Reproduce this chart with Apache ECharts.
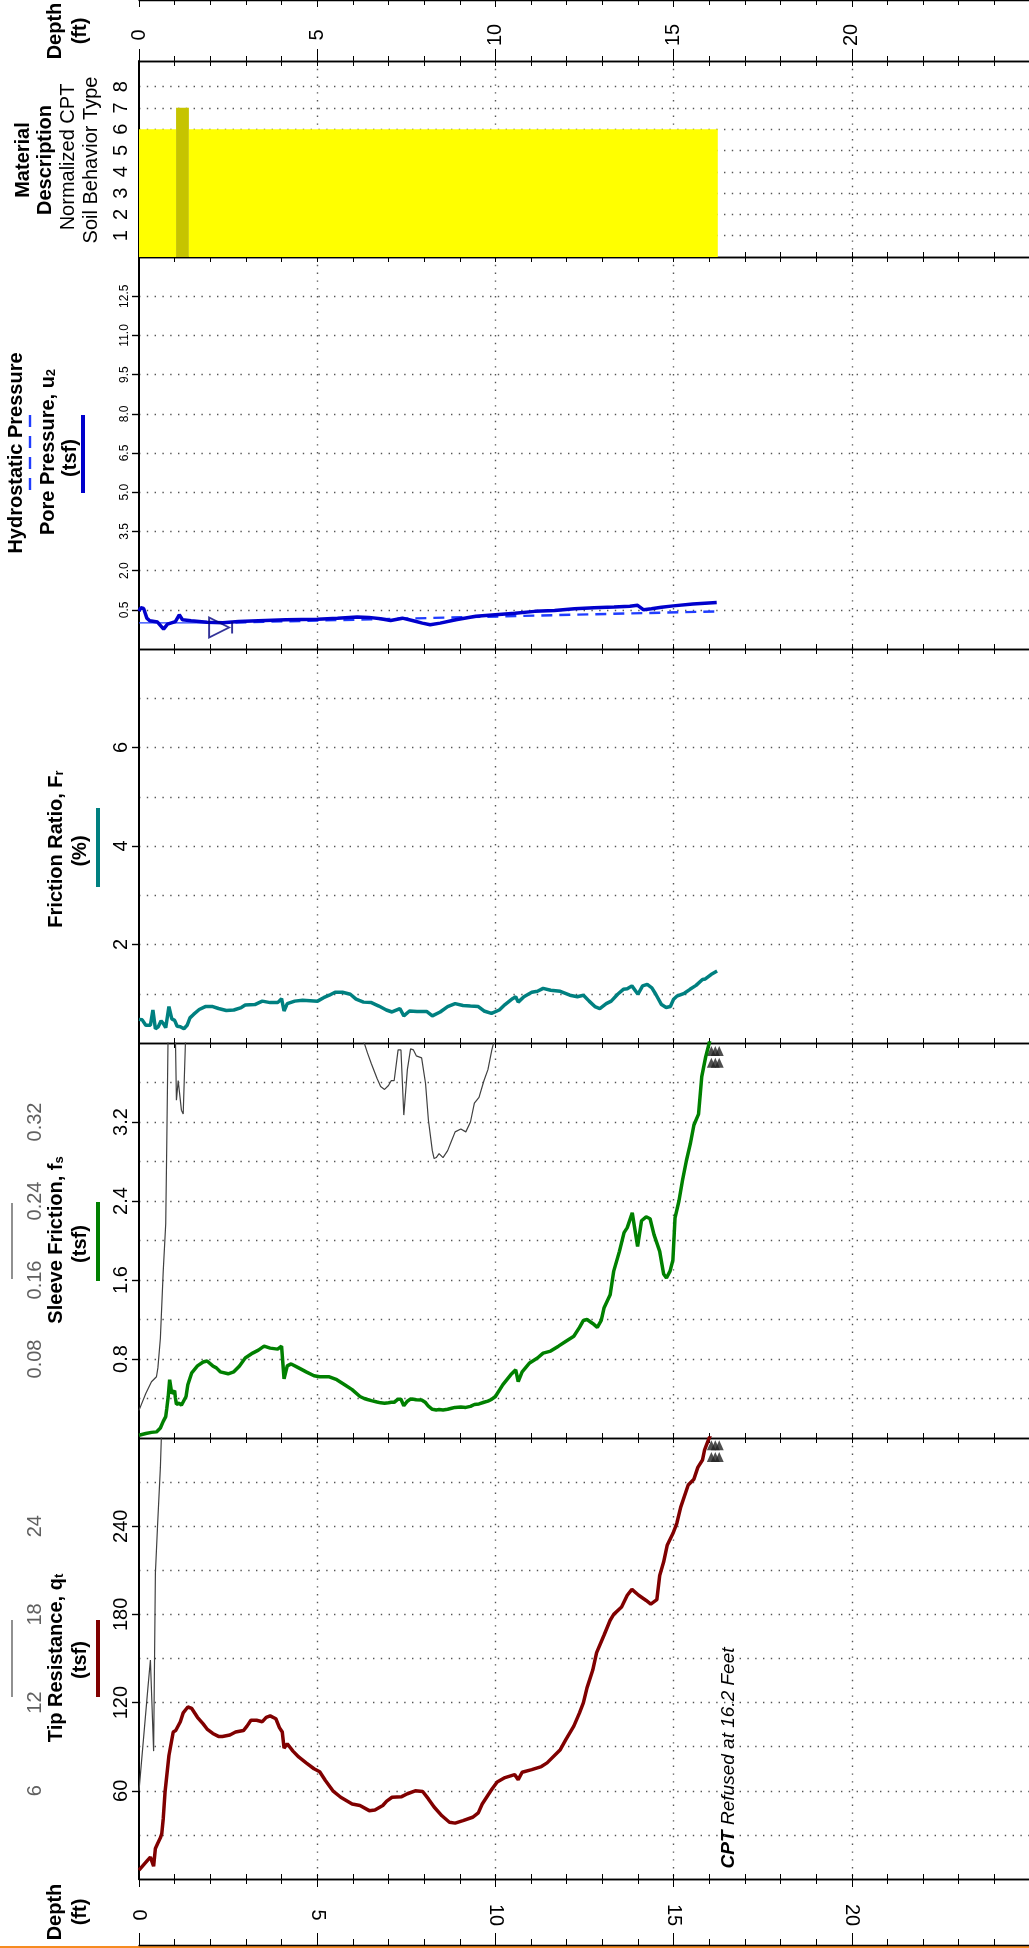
<!DOCTYPE html>
<html>
<head>
<meta charset="utf-8">
<title>CPT Log</title>
<script src="https://cdn.jsdelivr.net/npm/echarts@6/dist/echarts.min.js"></script>
<style>
  html, body { margin: 0; padding: 0; background: #fff; }
  #chart { width: 1029px; height: 1948px; }
</style>
</head>
<body>
<div id="chart"></div>
<script>
// depths in ft, values
const qtDepth = [0.00, 0.25, 0.32, 0.41, 0.46, 0.52, 0.60, 0.64, 0.68, 0.73, 0.84, 0.96, 1.03, 1.16, 1.24, 1.37, 1.48, 1.64, 1.80, 1.91,
  2.07, 2.23, 2.34, 2.55, 2.71, 2.93, 3.03, 3.14, 3.30, 3.46, 3.57, 3.68, 3.84, 3.94, 4.02, 4.07, 4.16, 4.32, 4.48, 4.69,
  4.91, 5.07, 5.23, 5.44, 5.66, 5.98, 6.20, 6.46, 6.62, 6.84, 6.95, 7.10, 7.37, 7.53, 7.75, 7.96, 8.12, 8.28, 8.50, 8.71,
  8.87, 9.09, 9.36, 9.52, 9.63, 9.79, 9.90, 10.05, 10.27, 10.54, 10.64, 10.75, 11.02, 11.29, 11.45, 11.82, 11.98, 12.20, 12.36, 12.47,
  12.57, 12.73, 12.84, 13.05, 13.22, 13.32, 13.54, 13.70, 13.83, 14.02, 14.23, 14.36, 14.53, 14.61, 14.72, 14.82, 14.98, 15.09, 15.20, 15.41,
  15.57, 15.68, 15.81, 15.87, 15.95, 16.05]
const qtTsf = [6, 13, 14.9, 8.7, 20.8, 24, 28, 31, 41, 59, 84, 100, 101, 107, 113, 117, 116, 110, 105.5, 102,
  99, 97, 97, 98, 100, 101, 104, 108, 108, 107, 110, 111, 109, 103, 100, 89, 92, 87, 83, 79,
  75, 73, 67, 60, 55.6, 51, 50, 46.5, 47, 50, 53, 55.6, 56, 58, 60, 59.5, 54.5, 49, 43, 38.6,
  38, 39.7, 42, 45, 51, 57, 61, 66, 69, 71, 67.6, 72.6, 74.4, 76.5, 79, 88, 95, 104, 113, 120,
  130, 142, 154, 166, 176, 180, 185, 193, 197, 193, 189.5, 187, 190, 206.5, 215.6, 227, 235, 242, 253, 268,
  272, 280, 285, 292, 297, 303]

const fsDepth = [0.00, 0.19, 0.35, 0.49, 0.53, 0.60, 0.68, 0.75, 0.78, 0.82, 0.86, 0.92, 1.00, 1.02, 1.05, 1.10, 1.13, 1.19, 1.24, 1.32,
  1.37, 1.48, 1.64, 1.80, 1.91, 2.07, 2.17, 2.28, 2.50, 2.66, 2.82, 2.98, 3.19, 3.35, 3.51, 3.68, 3.89, 4.00, 4.07, 4.16,
  4.27, 4.48, 4.69, 4.91, 5.07, 5.34, 5.55, 5.77, 5.98, 6.20, 6.32, 6.41, 6.52, 6.68, 6.78, 6.89, 7.00, 7.08, 7.16, 7.27,
  7.35, 7.43, 7.53, 7.62, 7.70, 7.78, 7.93, 8.04, 8.12, 8.23, 8.28, 8.34, 8.42, 8.53, 8.66, 8.77, 8.87, 9.03, 9.17, 9.30,
  9.41, 9.54, 9.68, 9.79, 9.90, 9.95, 10.00, 10.21, 10.43, 10.57, 10.64, 10.75, 10.96, 11.18, 11.34, 11.55, 11.77, 11.98, 12.20, 12.36,
  12.47, 12.57, 12.73, 12.86, 12.97, 13.05, 13.22, 13.32, 13.48, 13.61, 13.70, 13.84, 13.99, 14.10, 14.23, 14.34, 14.45, 14.61, 14.72, 14.80,
  14.90, 14.98, 15.04, 15.15, 15.25, 15.36, 15.47, 15.57, 15.70, 15.79, 15.90, 16.00, 16.05]
const fsTsf = [0.028, 0.045, 0.057, 0.062, 0.071, 0.101, 0.169, 0.217, 0.30, 0.42, 0.59, 0.45, 0.48, 0.41, 0.342, 0.362, 0.352, 0.332, 0.328, 0.42,
  0.54, 0.66, 0.73, 0.77, 0.78, 0.73, 0.71, 0.67, 0.65, 0.67, 0.73, 0.81, 0.86, 0.89, 0.93, 0.91, 0.90, 0.93, 0.60, 0.73,
  0.75, 0.71, 0.67, 0.63, 0.62, 0.62, 0.59, 0.54, 0.49, 0.42, 0.40, 0.39, 0.379, 0.364, 0.356, 0.353, 0.357, 0.362, 0.362, 0.393,
  0.393, 0.327, 0.373, 0.394, 0.393, 0.387, 0.385, 0.359, 0.322, 0.291, 0.283, 0.284, 0.288, 0.284, 0.291, 0.301, 0.310, 0.313, 0.310, 0.320,
  0.339, 0.345, 0.362, 0.373, 0.393, 0.40, 0.42, 0.54, 0.64, 0.69, 0.57, 0.67, 0.76, 0.81, 0.86, 0.88, 0.93, 0.98, 1.03, 1.12,
  1.19, 1.20, 1.16, 1.12, 1.19, 1.32, 1.45, 1.69, 1.89, 2.08, 2.13, 2.28, 1.94, 2.20, 2.24, 2.22, 2.06, 1.89, 1.66, 1.62,
  1.69, 1.80, 2.23, 2.40, 2.61, 2.81, 2.98, 3.17, 3.28, 3.66, 3.86, 4.0, 4.1]

const rfDepth = [0.00, 0.09, 0.19, 0.32, 0.39, 0.46, 0.54, 0.62, 0.68, 0.75, 0.84, 0.92, 1.00, 1.07, 1.16, 1.26, 1.35, 1.43, 1.53, 1.69,
  1.86, 2.07, 2.23, 2.45, 2.66, 2.87, 2.98, 3.25, 3.46, 3.68, 3.89, 4.00, 4.07, 4.16, 4.37, 4.59, 4.80, 5.01, 5.18, 5.34,
  5.50, 5.71, 5.93, 6.09, 6.30, 6.52, 6.73, 6.94, 7.10, 7.32, 7.43, 7.59, 7.80, 8.07, 8.23, 8.45, 8.66, 8.87, 9.09, 9.30,
  9.52, 9.68, 9.89, 10.11, 10.27, 10.48, 10.57, 10.64, 10.80, 11.02, 11.18, 11.34, 11.55, 11.82, 12.09, 12.30, 12.47, 12.63, 12.79, 12.93,
  13.11, 13.25, 13.43, 13.59, 13.70, 13.83, 14.00, 14.13, 14.26, 14.39, 14.50, 14.66, 14.79, 14.91, 15.00, 15.09, 15.30, 15.46, 15.63, 15.81,
  15.89, 16.05, 16.22]
const rfPct = [0.48, 0.47, 0.36, 0.36, 0.67, 0.29, 0.33, 0.45, 0.40, 0.31, 0.74, 0.49, 0.46, 0.34, 0.33, 0.29, 0.36, 0.51, 0.58, 0.68,
  0.74, 0.74, 0.70, 0.66, 0.67, 0.72, 0.77, 0.78, 0.85, 0.82, 0.82, 0.90, 0.65, 0.80, 0.85, 0.87, 0.86, 0.85, 0.92, 0.97,
  1.03, 1.03, 0.99, 0.89, 0.83, 0.82, 0.75, 0.67, 0.63, 0.70, 0.55, 0.65, 0.64, 0.64, 0.55, 0.63, 0.74, 0.80, 0.76, 0.75,
  0.74, 0.65, 0.60, 0.67, 0.78, 0.90, 0.94, 0.83, 0.94, 1.03, 1.05, 1.11, 1.07, 1.05, 0.97, 0.94, 0.97, 0.85, 0.74, 0.70,
  0.80, 0.85, 0.99, 1.09, 1.10, 1.16, 0.99, 1.16, 1.19, 1.12, 0.99, 0.78, 0.72, 0.74, 0.89, 0.95, 1.01, 1.09, 1.17, 1.29,
  1.30, 1.39, 1.46]

const u2Depth = [0.00, 0.05, 0.13, 0.22, 0.30, 0.52, 0.69, 0.80, 1.02, 1.13, 1.22, 1.46, 1.91, 2.35, 2.79, 3.35, 4.12, 5.01, 5.57, 6.12,
  6.45, 6.78, 7.06, 7.39, 7.67, 7.95, 8.17, 8.45, 8.89, 9.45, 10.00, 10.55, 11.10, 11.66, 12.22, 12.77, 13.33, 13.77, 13.99, 14.16,
  14.38, 14.66, 14.99, 15.54, 16.21]
const u2Tsf = [0.45, 0.58, 0.55, 0.18, 0.08, 0.03, -0.24, -0.05, 0.05, 0.31, 0.12, 0.08, 0.02, 0.00, 0.05, 0.08, 0.12, 0.14, 0.18, 0.22,
  0.21, 0.16, 0.09, 0.18, 0.09, -0.01, -0.07, -0.01, 0.12, 0.25, 0.31, 0.37, 0.44, 0.47, 0.54, 0.58, 0.61, 0.64, 0.67, 0.50,
  0.54, 0.60, 0.65, 0.72, 0.78]

const hydroDepth = [0, 2.2, 16.2]
const hydroTsf = [0, 0, 0.437]
const waterTable = [2.29, -0.18]

const sbtFrom = [0, 1.04, 1.40]
const sbtTo = [1.04, 1.40, 16.24]
const sbtZone = [6, 7, 6]

const refusalDepth = [16.06, 16.17, 16.28]
const qtRefusalRow = [295, 287]
const fsRefusalRow = [3.92, 3.80]

const FONT = '"Liberation Sans", Arial, sans-serif'
const DOT = { color: '#555', width: 1.4, type: [1.4, 6.4] }
const zoneColor = { 6: '#ffff00', 7: '#c6c400' }

const pairs = (xs, ys) => xs.map((x, i) => [x, ys[i]])
const refusalMarks = rows => rows.flatMap(v => refusalDepth.map(d => [d, v]))

const grids = [
  { top: 0, height: 61 }, // depth scale, top
  { top: 61, height: 196 }, // SBT
  { top: 257, height: 392 }, // pore pressure
  { top: 649, height: 394 }, // friction ratio
  { top: 1043, height: 395 }, // sleeve friction
  { top: 1438, height: 441 }, // tip resistance
  { top: 1879, height: 66 } // depth scale, bottom
].map(g => Object.assign({ left: 139, width: 891, outerBoundsMode: 'none', containLabel: false }, g))

function depthAxis (gridIndex, position, o = {}) {
  return {
    type: 'value',
    gridIndex,
    position,
    min: 0,
    max: 25,
    interval: 5,
    axisLine: { show: true, onZero: false, lineStyle: { color: '#000', width: 1.3 } },
    axisTick: { show: true, inside: true, length: o.tick || 5, lineStyle: { color: '#000', width: 1 } },
    minorTick: { show: true, splitNumber: 5, length: o.minor || 5, lineStyle: { color: '#000', width: 1 } },
    axisLabel: o.label
      ? { show: true, inside: true, rotate: 90, margin: o.label, align: 'center', verticalAlign: 'middle', fontSize: 20, fontFamily: FONT, color: '#000', showMaxLabel: false }
      : { show: false },
    splitLine: o.grid ? { show: true, showMinLine: false, showMaxLine: false, lineStyle: DOT } : { show: false }
  }
}

function valueAxis (gridIndex, min, max, interval, o = {}) {
  const main = !o.offset
  return {
    type: 'value',
    gridIndex,
    position: 'left',
    offset: o.offset || 0,
    min,
    max,
    interval,
    axisLine: { show: main, onZero: false, lineStyle: { color: '#000', width: 2 } },
    axisTick: { show: main && o.tick !== false, length: 7, lineStyle: { color: '#000', width: 1.4 } },
    minorTick: { show: false, splitNumber: o.minor || 5 },
    axisLabel: {
      rotate: 90,
      margin: 8,
      fontSize: o.fontSize || 20,
      fontFamily: FONT,
      color: o.color || '#000',
      showMinLabel: false,
      showMaxLabel: false,
      formatter: o.fmt
    },
    splitLine: { show: main, showMinLine: false, showMaxLine: false, lineStyle: o.splitStyle || DOT },
    minorSplitLine: { show: !!o.minor, lineStyle: DOT }
  }
}

const xAxes = [
  depthAxis(0, 'bottom', { tick: 12, minor: 5, label: 26 }),
  depthAxis(0, 'top', { tick: 7, minor: 5 })
]
for (let g = 1; g <= 5; g++) {
  xAxes.push(depthAxis(g, 'bottom', { grid: true }), depthAxis(g, 'top'))
}
xAxes.push(
  depthAxis(6, 'top', { tick: 8, minor: 5, label: 36 }),
  depthAxis(6, 'bottom', { tick: 12, minor: 6 })
)

const sbtLines = ['#555', '#555', '#555', '#555', '#555', '#555', '#555', '#555', 'rgba(0,0,0,0)', 'rgba(0,0,0,0)']

const yAxes = [
  { type: 'value', gridIndex: 0, show: false, min: 0, max: 1 },
  valueAxis(1, 0, 9.2, 1, {
    tick: false,
    fmt: v => (v >= 1 && v <= 8 ? String(v) : ''),
    splitStyle: Object.assign({}, DOT, { color: sbtLines })
  }),
  valueAxis(2, -1, 14, 1.5, { fontSize: 12, fmt: v => v.toFixed(1) }),
  valueAxis(3, 0, 8, 2, { minor: 2 }),
  valueAxis(4, 0, 4, 0.8, { minor: 2, fmt: v => v.toFixed(1) }),
  valueAxis(4, 0, 0.4, 0.08, { offset: 86, color: '#606060', fmt: v => v.toFixed(2) }),
  valueAxis(5, 0, 300, 60, { minor: 2 }),
  valueAxis(5, 0, 30, 6, { offset: 86, color: '#606060' }),
  { type: 'value', gridIndex: 6, show: false, min: 0, max: 1 }
]

const lineBase = { type: 'line', symbol: 'none', silent: true, clip: true, animation: false }

function vText (x, y, text, o = {}) {
  return {
    type: 'text',
    x,
    y,
    rotation: Math.PI / 2,
    silent: true,
    style: Object.assign({
      text,
      fill: '#000',
      fontSize: 20,
      fontWeight: o.normal ? 'normal' : 'bold',
      fontFamily: FONT,
      align: 'center',
      verticalAlign: 'middle'
    }, o.style)
  }
}

function subText (x, y, main, sub) {
  return vText(x, y, '{m|' + main + '}{s|' + sub + '}', {
    style: {
      rich: {
        m: { fontSize: 20, fontWeight: 'bold', fontFamily: FONT, fill: '#000' },
        s: { fontSize: 13, fontWeight: 'bold', fontFamily: FONT, fill: '#000', verticalAlign: 'bottom' }
      }
    }
  })
}

function swatch (x, y1, y2, color, width, dash) {
  return {
    type: 'line',
    silent: true,
    shape: { x1: x, y1, x2: x, y2 },
    style: { stroke: color, lineWidth: width, lineDash: dash || null }
  }
}

const graphics = [
  // depth headers
  vText(55, 31, 'Depth'), vText(80, 31, '(ft)'),
  vText(55, 1912, 'Depth'), vText(80, 1912, '(ft)'),
  // SBT
  vText(23, 160, 'Material'), vText(45, 160, 'Description'),
  vText(68, 157, 'Normalized CPT', { normal: true }), vText(91, 160, 'Soil Behavior Type', { normal: true }),
  // pore pressure
  vText(16, 453, 'Hydrostatic Pressure'),
  swatch(30, 415, 492, '#1f3cff', 2.4, [12, 9]),
  subText(48, 452, 'Pore Pressure, u', '2'),
  vText(70, 458, '(tsf)'),
  swatch(83, 415, 493, '#0000cc', 4),
  // friction ratio
  subText(56, 849, 'Friction Ratio, F', 'r'),
  vText(80, 851, '(%)'),
  swatch(98, 808, 887, '#008080', 4),
  // sleeve friction
  subText(56, 1240, 'Sleeve Friction, f', 's'),
  vText(80, 1244, '(tsf)'),
  swatch(12, 1203, 1279, '#555', 1.3),
  swatch(98, 1202, 1281, '#008000', 4),
  // tip resistance
  subText(56, 1658, 'Tip Resistance, q', 't'),
  vText(80, 1660, '(tsf)'),
  swatch(12, 1620, 1697, '#555', 1.3),
  swatch(98, 1620, 1697, '#800000', 4),
  vText(729, 1758, '{b|CPT} {i|Refused at 16.2 Feet}', {
    style: {
      rich: {
        b: { fontSize: 19, fontWeight: 'bold', fontStyle: 'italic', fontFamily: FONT, fill: '#000' },
        i: { fontSize: 19, fontStyle: 'italic', fontFamily: FONT, fill: '#000' }
      }
    }
  }),
  {
    type: 'line',
    silent: true,
    shape: { x1: 0, y1: 1947, x2: 1029, y2: 1947 },
    style: { stroke: '#f68b1f', lineWidth: 2 }
  }
]

const series = [
  {
    type: 'custom',
    xAxisIndex: 2,
    yAxisIndex: 1,
    silent: true,
    data: sbtFrom.map((d, i) => [d, sbtTo[i], sbtZone[i]]),
    encode: { x: [0, 1], y: 2 },
    renderItem: (params, api) => {
      const start = api.coord([api.value(0), 0])
      const end = api.coord([api.value(1), api.value(2)])
      return {
        type: 'rect',
        shape: { x: start[0], y: end[1], width: end[0] - start[0], height: start[1] - end[1] },
        style: { fill: zoneColor[api.value(2)] }
      }
    }
  },
  Object.assign({}, lineBase, {
    xAxisIndex: 4,
    yAxisIndex: 2,
    data: pairs(hydroDepth.slice(0, 2), hydroTsf.slice(0, 2)),
    lineStyle: { color: '#1f3cff', width: 1.2 }
  }),
  Object.assign({}, lineBase, {
    xAxisIndex: 4,
    yAxisIndex: 2,
    data: pairs(hydroDepth.slice(1), hydroTsf.slice(1)),
    lineStyle: { color: '#1f3cff', width: 2.4, type: [11, 7] }
  }),
  Object.assign({}, lineBase, {
    xAxisIndex: 4,
    yAxisIndex: 2,
    z: 3,
    data: pairs(u2Depth, u2Tsf),
    lineStyle: { color: '#0000cc', width: 3.5 }
  }),
  {
    type: 'scatter',
    xAxisIndex: 4,
    yAxisIndex: 2,
    silent: true,
    z: 4,
    data: [waterTable],
    symbol: 'path://M0,0 L0,20 L20,10 Z M23,4 L23,16',
    symbolSize: [23, 20],
    itemStyle: { color: 'rgba(0,0,0,0)', borderColor: '#000080', borderWidth: 1.8 }
  },
  Object.assign({}, lineBase, {
    xAxisIndex: 6,
    yAxisIndex: 3,
    data: pairs(rfDepth, rfPct),
    lineStyle: { color: '#008080', width: 3.5 }
  }),
  Object.assign({}, lineBase, {
    xAxisIndex: 8,
    yAxisIndex: 5,
    data: pairs(fsDepth, fsTsf),
    lineStyle: { color: '#404040', width: 1.2 }
  }),
  Object.assign({}, lineBase, {
    xAxisIndex: 8,
    yAxisIndex: 4,
    z: 3,
    data: pairs(fsDepth, fsTsf),
    lineStyle: { color: '#008000', width: 3.5 }
  }),
  {
    type: 'scatter',
    xAxisIndex: 8,
    yAxisIndex: 4,
    silent: true,
    data: refusalMarks(fsRefusalRow),
    symbol: 'triangle',
    symbolSize: [9, 10],
    itemStyle: { color: '#222' }
  },
  Object.assign({}, lineBase, {
    xAxisIndex: 10,
    yAxisIndex: 7,
    data: pairs(qtDepth, qtTsf),
    lineStyle: { color: '#404040', width: 1.2 }
  }),
  Object.assign({}, lineBase, {
    xAxisIndex: 10,
    yAxisIndex: 6,
    z: 3,
    data: pairs(qtDepth, qtTsf),
    lineStyle: { color: '#800000', width: 3.5 }
  }),
  {
    type: 'scatter',
    xAxisIndex: 10,
    yAxisIndex: 6,
    silent: true,
    data: refusalMarks(qtRefusalRow),
    symbol: 'triangle',
    symbolSize: [9, 10],
    itemStyle: { color: '#222' }
  }
]

const chart = echarts.init(document.getElementById('chart'))
chart.setOption({
  backgroundColor: '#ffffff',
  animation: false,
  grid: grids,
  xAxis: xAxes,
  yAxis: yAxes,
  series,
  graphic: graphics
})
</script>
</body>
</html>
